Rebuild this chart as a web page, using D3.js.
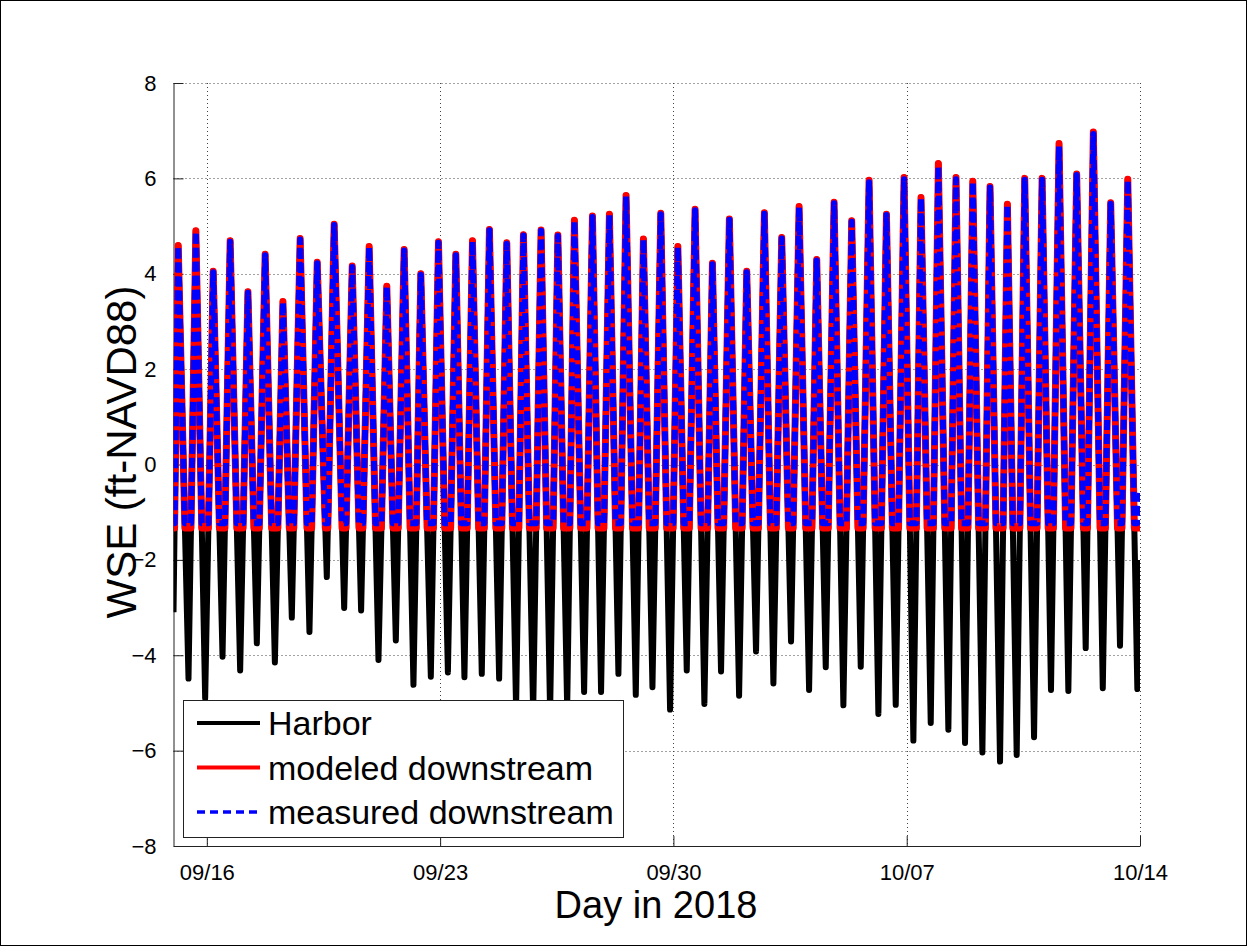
<!DOCTYPE html>
<html><head><meta charset="utf-8">
<script src="https://cdn.jsdelivr.net/npm/d3@7"></script>
<style>
body{margin:0;background:#fff}
svg{display:block}
text{font-family:"Liberation Sans", Arial, Helvetica, sans-serif; fill:#000}
</style>
</head><body>
<svg id="c" width="1248" height="946"></svg>
<script>
// ---------------- data ----------------
const startTime = "2018-09-15 00:00";          // left edge of the x axis
const endHour = 696;                            // right edge (10/14 00:00), hours after start
const xTickDates = ["2018-09-16","2018-09-23","2018-09-30","2018-10-07","2018-10-14"];
const yTickValues = [-8,-6,-4,-2,0,2,4,6,8];
const seriesNames = ["Harbor","modeled downstream","measured downstream"];

// hours after startTime of each high water
const highHours = [3.4,16.1,28.6,40.8,53.6,66.0,78.8,91.2,103.5,115.7,
  128.7,140.9,153.6,166.1,178.1,190.8,203.3,215.3,227.5,240.0,
  252.0,264.7,276.8,288.7,301.7,313.9,325.9,338.4,350.9,363.2,
  375.6,388.1,400.3,412.8,425.5,438.0,450.5,463.2,475.7,488.4,
  500.9,513.4,526.1,538.3,550.8,563.5,575.6,588.0,600.5,613.0,
  625.5,637.7,650.4,662.4,674.9,687.2];
// hours after startTime of each low water
const lowHours = [10.8,22.8,35.3,48.0,60.0,73.0,85.2,97.9,110.4,122.9,
  135.1,147.6,160.1,172.8,185.3,197.6,209.5,222.0,234.5,246.7,
  259.0,271.2,283.5,295.7,307.9,320.4,332.9,344.9,357.6,369.6,
  382.3,394.3,407.3,419.5,432.0,444.7,457.7,469.7,482.4,494.9,
  507.6,520.1,532.8,545.3,558.0,570.0,582.5,595.2,607.2,619.7,
  631.9,644.4,656.9,669.2,681.6,694.1];

// Harbor WSE (ft-NAVD88)
const harborStart = -3.1, harborEnd = -2.0;
const harborHigh = [4.59,4.90,4.05,4.69,3.62,4.41,3.42,4.74,4.24,5.04,
  4.16,4.57,3.74,4.51,4.00,4.67,4.41,4.69,4.93,4.65,
  4.82,4.92,4.81,5.12,5.21,5.25,5.64,4.73,5.27,4.57,
  5.35,4.22,5.15,4.05,5.28,4.76,5.41,4.30,5.50,5.11,
  5.96,5.25,6.02,5.60,6.31,6.02,5.94,5.83,5.46,6.00,
  6.00,6.73,6.09,6.97,5.49,5.98];
const harborLow = [-4.49,-4.90,-4.03,-4.32,-3.75,-4.15,-3.21,-3.51,-2.36,-3.01,
  -3.06,-4.10,-3.69,-4.62,-4.45,-4.36,-4.46,-4.39,-4.49,-5.10,
  -5.20,-5.20,-5.10,-4.77,-4.77,-4.39,-4.83,-4.67,-5.14,-4.32,
  -5.02,-4.34,-4.85,-3.92,-4.59,-3.71,-4.73,-4.25,-5.05,-4.24,
  -5.23,-5.04,-5.79,-5.42,-5.56,-5.84,-6.04,-6.23,-6.09,-5.72,
  -4.73,-4.75,-3.85,-4.69,-3.80,-4.71];

// modeled downstream: highs and the sill level it bottoms out at
const modeledHigh = [4.59,4.90,4.05,4.69,3.62,4.41,3.42,4.74,4.24,5.04,
  4.16,4.57,3.74,4.51,4.00,4.67,4.41,4.69,4.93,4.65,
  4.82,4.92,4.81,5.12,5.21,5.25,5.64,4.73,5.27,4.57,
  5.35,4.22,5.15,4.05,5.28,4.76,5.41,4.30,5.50,5.11,
  5.96,5.25,6.02,5.60,6.31,6.02,5.94,5.83,5.46,6.00,
  6.00,6.73,6.09,6.97,5.49,5.98];
const modeledFloor = -1.33;

// measured downstream
const measuredHigh = [4.57,4.88,4.03,4.67,3.60,4.39,3.40,4.72,4.22,5.02,
  4.14,4.55,3.72,4.49,3.98,4.65,4.39,4.67,4.91,4.63,
  4.80,4.90,4.79,5.10,5.19,5.23,5.62,4.71,5.25,4.55,
  5.33,4.20,5.13,4.03,5.26,4.74,5.39,4.28,5.48,5.09,
  5.92,5.23,5.98,5.58,6.25,5.98,5.92,5.81,5.44,5.97,
  5.97,6.67,6.07,6.93,5.47,5.95];
const measuredFloor = -1.23;
const measuredEnd = -0.6;

// ---------------- chart ----------------
const W = 1248, H = 946;
const L = 173.5, R = 1140, T = 83, B = 846;
const svg = d3.select("#c");
const parse = d3.timeParse("%Y-%m-%d %H:%M");
const t0 = parse(startTime);
const atHour = h => new Date(t0.getTime() + h * 3600e3);

const x = d3.scaleTime().domain([atHour(0), atHour(endHour)]).range([L, R]);
const y = d3.scaleLinear().domain([-8, 8]).range([B, T]);

svg.append("rect").attr("width", W).attr("height", H).attr("fill", "#fff");
svg.append("rect").attr("x", 0.5).attr("y", 0.5).attr("width", W - 2).attr("height", H - 1)
  .attr("fill", "none").attr("stroke", "#000").attr("stroke-width", 1);

// grid
const xTicks = xTickDates.map(d => d3.timeParse("%Y-%m-%d")(d));
const grid = svg.append("g").attr("stroke", "#444").attr("stroke-width", 1).attr("stroke-dasharray", "1,3");
grid.selectAll("line.h").data(yTickValues.filter(v => v > -8)).join("line")
  .attr("x1", L).attr("x2", R).attr("y1", d => Math.round(y(d)) + 0.5).attr("y2", d => Math.round(y(d)) + 0.5);
grid.selectAll("line.v").data(xTicks).join("line")
  .attr("y1", T).attr("y2", B).attr("x1", d => Math.round(x(d)) + 0.5).attr("x2", d => Math.round(x(d)) + 0.5);

// axes (MATLAB style: inward ticks, box off)
const yAxis = d3.axisLeft(y).tickValues(yTickValues).tickFormat(d3.format("d")).tickSizeInner(-10).tickSizeOuter(0).tickPadding(17);
const xAxis = d3.axisBottom(x).tickValues(xTicks).tickFormat(d3.timeFormat("%m/%d")).tickSizeInner(-10).tickSizeOuter(0).tickPadding(18);
const gy = svg.append("g").attr("transform", `translate(${L},0)`).call(yAxis);
const gx = svg.append("g").attr("transform", `translate(0,${B})`).call(xAxis);
[gy, gx].forEach(g => {
  g.select(".domain").attr("stroke", "#222");
  g.selectAll(".tick line").attr("stroke", "#222");
  g.selectAll("text").attr("font-size", 22).attr("font-family", '"Liberation Sans", Arial, sans-serif').attr("fill", "#000");
});

// data lines
svg.append("clipPath").attr("id", "clip").append("rect")
  .attr("x", L).attr("y", T).attr("width", R - L).attr("height", B - T);

function tideSeries(highs, lows, first, last) {
  const pts = [[0, first]];
  highHours.forEach((h, i) => { pts.push([h, highs[i]]); pts.push([lowHours[i], lows[i]]); });
  pts.push([endHour, last]);
  return pts;
}
// downstream gauge follows the harbor tide until it bottoms out at its sill level
function atSill(highs, floor) {
  const pts = tideSeries(highs, harborLow, harborStart, harborEnd);
  const out = [];
  pts.forEach(([h, v], i) => {
    if (i > 0) {
      const [h0, v0] = pts[i - 1];
      if ((v0 - floor) * (v - floor) < 0) {
        const f = (floor - v0) / (v - v0);
        out.push([h0 + f * (h - h0), floor]);
      }
    }
    out.push([h, Math.max(v, floor)]);
  });
  return out;
}

const harborPts = tideSeries(harborHigh, harborLow, harborStart, harborEnd);
const modeledPts = atSill(modeledHigh, modeledFloor);
const measuredPts = atSill(measuredHigh, measuredFloor);
measuredPts[measuredPts.length - 1] = [endHour, measuredEnd];

const line = d3.line().x(d => x(atHour(d[0]))).y(d => y(d[1]));
const plot = svg.append("g").attr("clip-path", "url(#clip)")
  .attr("fill", "none").attr("stroke-linejoin", "round").attr("stroke-linecap", "butt");
plot.append("path").datum(harborPts).attr("d", line).attr("stroke", "#000").attr("stroke-width", 6);
plot.append("path").datum(modeledPts).attr("d", line).attr("stroke", "#ff0000").attr("stroke-width", 7);
plot.append("path").datum(measuredPts).attr("d", line).attr("stroke", "#0000ff").attr("stroke-width", 6)
  .attr("stroke-dasharray", "10,4");

// axis labels
svg.append("text").attr("x", 656).attr("y", 918).attr("text-anchor", "middle")
  .attr("font-size", 38).text("Day in 2018");
svg.append("text").attr("transform", "translate(136,452) rotate(-90)").attr("text-anchor", "middle")
  .attr("font-size", 42).text("WSE (ft-NAVD88)");

// legend
const lg = svg.append("g");
lg.append("rect").attr("x", 183.5).attr("y", 700.5).attr("width", 440).attr("height", 137)
  .attr("fill", "#fff").attr("stroke", "#222").attr("stroke-width", 1);
const legendStyles = [
  {stroke: "#000", width: 4, dash: null},
  {stroke: "#ff0000", width: 4, dash: null},
  {stroke: "#0000ff", width: 3.5, dash: "8,5"}
];
const legendY = d3.scalePoint().domain(seriesNames).range([723, 812]);
seriesNames.forEach((name, i) => {
  const yy = legendY(name), st = legendStyles[i];
  lg.append("line").attr("x1", 197).attr("x2", 260).attr("y1", yy).attr("y2", yy)
    .attr("stroke", st.stroke).attr("stroke-width", st.width).attr("stroke-dasharray", st.dash);
  lg.append("text").attr("x", 268).attr("y", yy + 12).attr("font-size", 34).text(name);
});
</script>
</body></html>
